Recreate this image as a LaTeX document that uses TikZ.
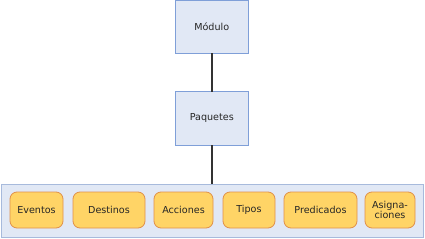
\documentclass[tikz,border=0pt]{standalone}
\usepackage{fontspec}
\setmainfont{DejaVu Sans}
\begin{document}
\begin{tikzpicture}[x=1pt,y=-1pt,
  bluebox/.style={draw=boxborder,fill=boxfill,line width=0.8pt},
  pill/.style={draw=pillborder,fill=pillfill,line width=0.8pt,rounded corners=7pt},
  lbl/.style={font=\fontsize{9.6}{10.5}\selectfont,text=black!85,align=center},
  conn/.style={draw=black!80,line width=1.6pt}]
\definecolor{boxfill}{HTML}{E1E8F5}
\definecolor{boxborder}{HTML}{7F9FD8}
\definecolor{contborder}{HTML}{A7BADC}
\definecolor{pillfill}{HTML}{FFD466}
\definecolor{pillborder}{HTML}{E0904A}
\useasboundingbox (0,0) rectangle (425,238);
\path[bluebox] (175.5,0.5) rectangle (248,53.5);
\node[lbl] (mod) at (211.75,27) {Módulo};
\path[bluebox] (175.5,91.5) rectangle (248,145);
\node[lbl] (paq) at (211.75,118) {Paquetes};
\coordinate (modb) at (212,53.5);
\coordinate (paqt) at (212,91.5);
\coordinate (paqb) at (212,145);
\coordinate (contt) at (212,184);
\draw[conn] (modb) -- (paqt);
\draw[conn] (paqb) -- (contt);
\path[draw=contborder,fill=boxfill,line width=0.8pt] (1,184) rectangle (423.5,237);
\path[pill] (10,192) rectangle (63,228); \node[lbl] (ev) at (36.5,210) {Eventos};
\path[pill] (73,192) rectangle (145,228); \node[lbl] (de) at (109,210) {Destinos};
\path[pill] (154,192) rectangle (213,228); \node[lbl] (ac) at (183.5,210) {Acciones};
\path[pill] (223,192) rectangle (275,228); \node[lbl] (ti) at (249,210) {Tipos};
\path[pill] (284,192) rectangle (357,228); \node[lbl] (pr) at (320.5,210) {Predicados};
\path[pill] (365,192) rectangle (415,228); \node[lbl] (as) at (390,210) {Asigna-\\ciones};
\end{tikzpicture}
\end{document}
